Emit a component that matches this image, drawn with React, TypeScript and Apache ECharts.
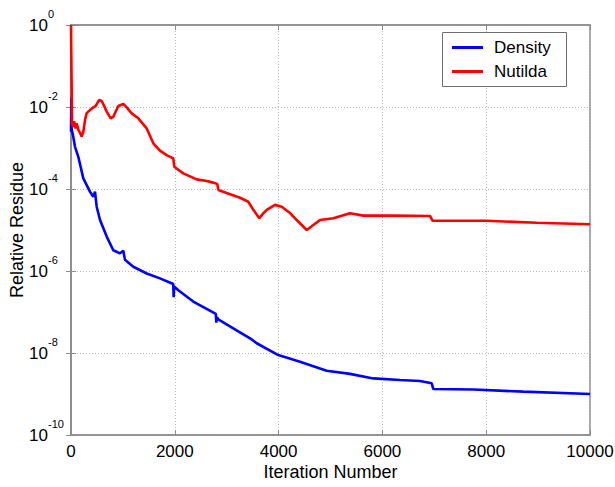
import React, { useEffect, useRef } from "react";
import * as echarts from "echarts";

const densityIter = [0, 6, 13, 40, 77, 141, 237, 300, 366, 430, 462, 495, 559, 688, 815, 944, 1008, 1040, 1200, 1459, 1715, 1970, 1978, 1986, 2068, 2356, 2790, 2800, 2812, 2838, 3127, 3482, 3578, 3994, 4412, 4927, 5376, 5825, 6339, 6724, 6950, 6981, 7752, 8715, 10000];
const densityValues = [2.5e-3, 1.7e-2, 2.8e-3, 2.0e-3, 1.07e-3, 6.1e-4, 1.82e-4, 1.26e-4, 8.6e-5, 6.5e-5, 8.6e-5, 3.7e-5, 1.75e-5, 6.9e-6, 3.2e-6, 2.7e-6, 3.1e-6, 1.87e-6, 1.27e-6, 8.7e-7, 6.6e-7, 4.8e-7, 2.3e-7, 4.2e-7, 3.4e-7, 1.8e-7, 9e-8, 5.5e-8, 7.5e-8, 6.6e-8, 4e-8, 2.14e-8, 1.73e-8, 8.9e-9, 6.1e-9, 3.7e-9, 3.1e-9, 2.4e-9, 2.2e-9, 2.08e-9, 1.82e-9, 1.32e-9, 1.29e-9, 1.14e-9, 1e-9];

const nutildaIter = [0, 8, 20, 40, 60, 90, 110, 140, 170, 205, 240, 270, 302, 366, 430, 476, 540, 592, 640, 688, 765, 815, 911, 1008, 1073, 1170, 1297, 1459, 1586, 1715, 1844, 1971, 1990, 2164, 2422, 2615, 2742, 2819, 2838, 3000, 3256, 3416, 3513, 3628, 3700, 3771, 3931, 4060, 4220, 4349, 4542, 4669, 4798, 5054, 5376, 5632, 6210, 6917, 6969, 8010, 8973, 10000];
const nutildaValues = [1.0, 0.1, 4.0e-3, 3.2e-3, 4.5e-3, 3.0e-3, 4.0e-3, 2.8e-3, 2.4e-3, 1.9e-3, 2.6e-3, 4.8e-3, 7.1e-3, 8.4e-3, 9.8e-3, 1.06e-2, 1.48e-2, 1.4e-2, 1.05e-2, 7.7e-3, 5.3e-3, 5.8e-3, 1.06e-2, 1.18e-2, 9.8e-3, 7.0e-3, 5.3e-3, 3.0e-3, 1.3e-3, 8.6e-4, 6.7e-4, 5.6e-4, 3.5e-4, 2.4e-4, 1.72e-4, 1.57e-4, 1.43e-4, 1.33e-4, 9.5e-5, 8.0e-5, 6.1e-5, 4.9e-5, 3.1e-5, 1.94e-5, 2.5e-5, 3.1e-5, 4.1e-5, 3.7e-5, 2.6e-5, 1.75e-5, 1.0e-5, 1.32e-5, 1.75e-5, 1.93e-5, 2.56e-5, 2.24e-5, 2.24e-5, 2.2e-5, 1.68e-5, 1.68e-5, 1.5e-5, 1.38e-5];

const seriesNames = ["Density", "Nutilda"];
const xTitle = "Iteration Number";
const yTitle = "Relative Residue";
const logBaseLabel = "10";

const FONT = "'Liberation Sans', Arial, Helvetica, sans-serif";

export default function App() {
  const ref = useRef<HTMLDivElement>(null);
  useEffect(() => {
    if (!ref.current) return;
    const chart = echarts.init(ref.current, undefined, { renderer: "svg" });
    const frame = "#8c8c8c";
    const gridLine = { show: true, lineStyle: { color: "#b8b8b8", type: [1, 2], width: 1 } };
    const logCommon = { type: "log", logBase: 10, min: 1e-10, max: 1, interval: 2, gridIndex: 0 };
    const option: any = {
      animation: false,
      backgroundColor: "#fff",
      textStyle: { fontFamily: FONT },
      grid: {
        left: 71, right: 25, top: 25, bottom: 52,
        outerBoundsMode: "none",
        containLabel: false,
        show: true, borderColor: frame, borderWidth: 1.5, backgroundColor: "transparent",
      },
      graphic: [
        {
          type: "rect",
          left: 442,
          top: 32,
          z: 3,
          shape: { width: 124, height: 54 },
          style: { fill: "#fff", stroke: "#6e6e6e", lineWidth: 1 },
        },
      ],
      legend: {
        orient: "vertical",
        left: 452,
        top: 39,
        z: 5,
        data: seriesNames,
        icon: "rect",
        itemWidth: 31,
        itemHeight: 3,
        itemGap: 7,
        padding: 0,
        textStyle: { fontFamily: FONT, fontSize: 17, color: "#000", padding: [0, 0, 0, 6] },
      },
      xAxis: [
        {
          type: "value",
          min: 0,
          max: 10000,
          interval: 2000,
          name: xTitle,
          nameLocation: "middle",
          nameGap: 28,
          nameMoveOverlap: false,
          nameTextStyle: { fontFamily: FONT, fontSize: 18, color: "#000" },
          axisLine: { show: true, lineStyle: { color: frame, width: 1.5 } },
          axisTick: { show: true, inside: true, length: 5, lineStyle: { color: frame } },
          axisLabel: { fontFamily: FONT, fontSize: 17, color: "#000", margin: 8, formatter: (v: number) => String(v) },
          splitLine: gridLine,
        },
        {
          type: "value",
          position: "top",
          min: 0,
          max: 10000,
          interval: 2000,
          axisLine: { show: true, lineStyle: { color: frame, width: 1.5 } },
          axisTick: { show: true, inside: true, length: 5, lineStyle: { color: frame } },
          axisLabel: { show: false },
          splitLine: { show: false },
        },
      ],
      yAxis: [
        {
          ...logCommon,
          name: yTitle,
          nameLocation: "middle",
          nameRotate: 90,
          nameGap: 45,
          nameMoveOverlap: false,
          nameTextStyle: { fontFamily: FONT, fontSize: 18, color: "#000" },
          axisLine: { show: true, lineStyle: { color: frame, width: 1.5 } },
          axisTick: { show: true, inside: true, length: 5, lineStyle: { color: frame } },
          minorTick: { show: false },
          axisLabel: {
            margin: 23,
            fontFamily: FONT,
            fontSize: 17,
            color: "#000",
            verticalAlign: "top",
            lineHeight: 19,
            padding: 0,
            formatter: () => logBaseLabel,
          },
          splitLine: gridLine,
        },
        {
          ...logCommon,
          position: "right",
          axisLine: { show: true, lineStyle: { color: frame, width: 1.5 } },
          axisTick: { show: true, inside: true, length: 5, lineStyle: { color: frame } },
          axisLabel: { show: false },
          splitLine: { show: false },
        },
        {
          ...logCommon,
          position: "left",
          offset: 0,
          axisLine: { show: false },
          axisTick: { show: false },
          splitLine: { show: false },
          axisLabel: {
            margin: 23,
            align: "left",
            verticalAlign: "bottom",
            lineHeight: 22,
            fontFamily: FONT,
            fontSize: 11,
            color: "#000",
            formatter: (v: number) => String(Math.round(Math.log10(v))),
          },
        },
      ],
      series: [
        {
          name: seriesNames[0],
          type: "line",
          symbol: "none",
          data: densityIter.map((x, i) => [x, densityValues[i]]),
          lineStyle: { color: "#0000ff", width: 2.6 },
          itemStyle: { color: "#0000ff" },
        },
        {
          name: seriesNames[1],
          type: "line",
          symbol: "none",
          data: nutildaIter.map((x, i) => [x, nutildaValues[i]]),
          lineStyle: { color: "#ff0000", width: 2.6 },
          itemStyle: { color: "#ff0000" },
        },
      ],
    };
    // shift "10" base labels so their centre sits ~1px below the tick
    option.yAxis[0].axisLabel.verticalAlign = "middle";
    option.yAxis[0].axisLabel.lineHeight = 17;
    option.yAxis[0].axisLabel.padding = [2, 0, 0, 0];
    chart.setOption(option);
    return () => chart.dispose();
  }, []);
  return <div ref={ref} style={{ width: 615, height: 487, position: "absolute", left: 0, top: 0 }} />;
}
